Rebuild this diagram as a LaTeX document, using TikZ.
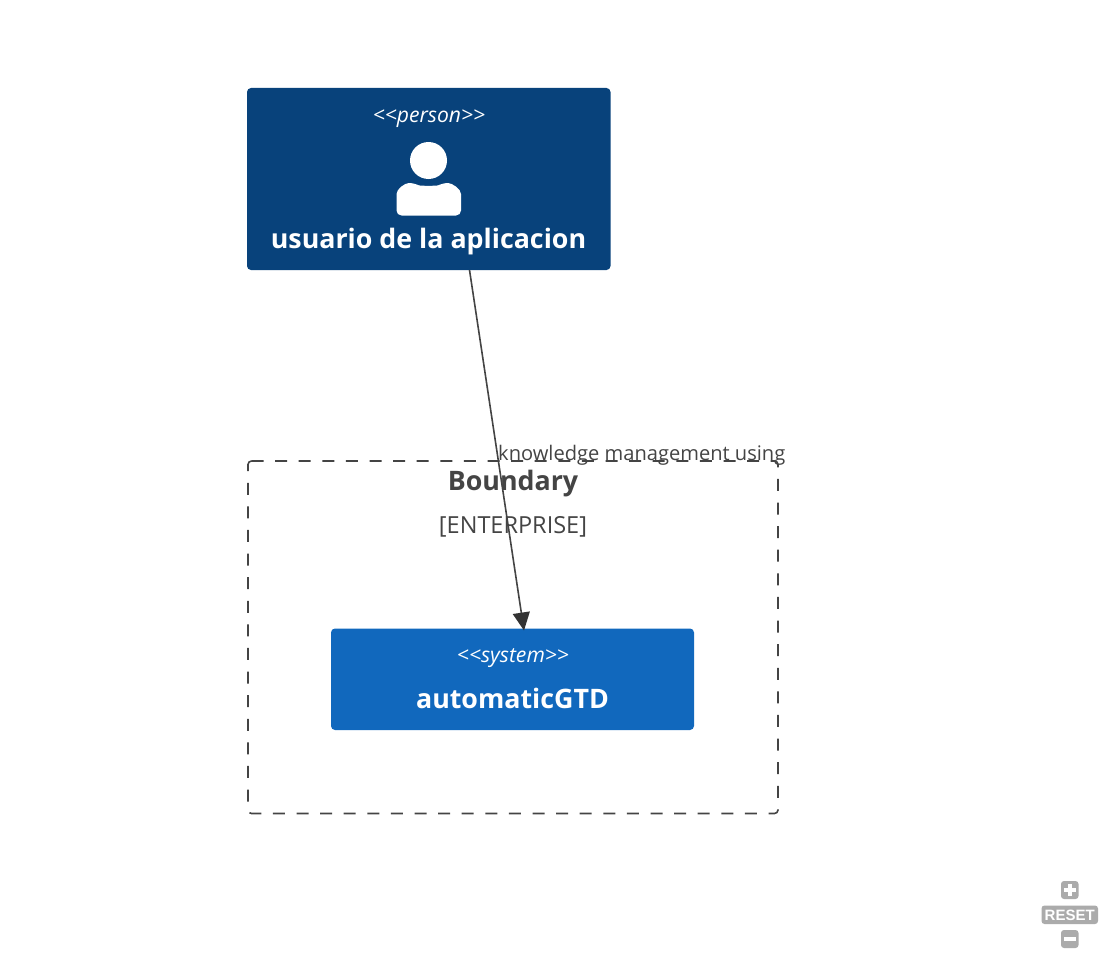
\documentclass[tikz,border=0pt]{standalone}
\usepackage{fontspec}
\setmainfont{Open Sans}
\newfontfamily\resetfont{Liberation Sans}[Scale=1]
\usetikzlibrary{arrows.meta}
\definecolor{persondark}{HTML}{08427B}
\definecolor{systemblue}{HTML}{1168BD}
\definecolor{inkgrey}{HTML}{444444}
\definecolor{linegrey}{HTML}{333333}
\definecolor{zoomgrey}{HTML}{ABABAB}
\newcommand{\fsize}[1]{\fontsize{#1}{#1}\selectfont}
\newcommand{\card}[5]{ \fill[#5, rounded corners=4] ( #1 , #2 ) rectangle ( #3 , #4 );}
\tikzset{
    stereo/.style={text=white, font=\fsize{21.1}\itshape, inner sep=0pt},
    title/.style={text=white, font=\fsize{26.8}\bfseries, inner sep=0pt},
    boundarytext/.style={text=inkgrey, inner sep=0pt},
    zoomkey/.style={fill=zoomgrey, rounded corners=3},
}

\begin{document}
\begin{tikzpicture}[x=1pt, y=-1pt]
        \useasboundingbox (0,0) rectangle (1107,955);

        % boundary
        \draw[inkgrey, line width=1.6, dash pattern=on 12 off 11.6, rounded corners=3.5] (251.5,461) -- (778,461) -- (778,813.5) -- (248,813.5) -- (248,461) -- (251.5,461);
        \node[boundarytext, font=\fsize{26.8}\bfseries] (boundaryname) at (513,484) {Boundary};
        \node[boundarytext, font=\fsize{23.5}] (boundarytype) at (513,527) {[ENTERPRISE]};

        % person
        \card{247}{88}{610.5}{270}{persondark}
        \node[stereo] (personstereo) at (429,118.5) {<{}<person>{}>};
        \fill[white] (428.5,160.5) circle (18.5);
        \fill[white, rounded corners=5] (396.5,215.5) -- (396.5,199) .. controls (396.5,189) and (405,183) .. (414,183) .. controls (420,186) and (437,186) .. (443,183) .. controls (452,183) and (461,189) .. (461,199) -- (461,215.5) -- cycle;
        \node[title] (usuario) at (428.5,241.5) {usuario de la aplicacion};

        % system
        \card{331}{628.5}{694}{730}{systemblue}
        \node[stereo] (systemstereo) at (513,658.5) {<{}<system>{}>};
        \node[title] (automaticgtd) at (512.5,698) {automaticGTD};

        % relation
        \coordinate (relfrom) at (469.5,270);
        \coordinate (relto) at (524,630.5);
        \draw[inkgrey, line width=1.6, -{Triangle[length=18,width=17,color=linegrey]}] (relfrom) -- (relto);
        \node[boundarytext, font=\fsize{20.1}, anchor=west] (rellabel) at (498,455.5) {knowledge management using};

        % zoom keys
        \fill[zoomkey] (1061,881) rectangle (1078.5,899);
        \fill[white] (1063.5,888) rectangle (1076,891.5);
        \fill[white] (1068,883.5) rectangle (1071.5,896);
        \fill[zoomkey] (1041.5,905.5) rectangle (1098,924);
        \node[text=white, font=\resetfont\fsize{15}\bfseries, inner sep=0pt] (resetkey) at (1069.7,915) {RESET};
        \fill[zoomkey] (1061,930) rectangle (1078.5,948);
        \fill[white] (1063.5,937) rectangle (1076,940.5);
\end{tikzpicture}
\end{document}
